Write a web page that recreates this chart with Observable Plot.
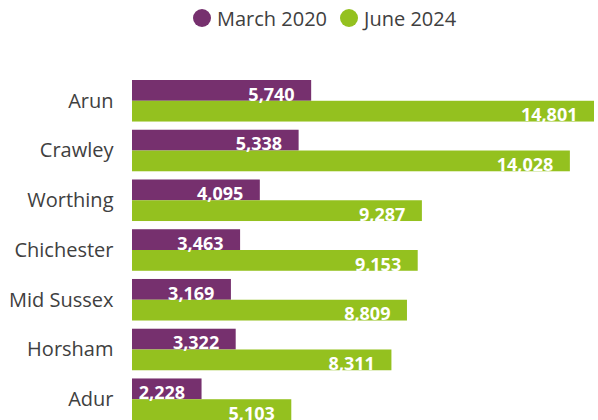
<!DOCTYPE html>
<html>
<head>
<meta charset="utf-8">
<script src="https://cdn.jsdelivr.net/npm/d3@7"></script>
<script src="https://cdn.jsdelivr.net/npm/@observablehq/plot@0.6"></script>
<style>
  html, body { margin: 0; padding: 0; background: #fff; }
  body { width: 598px; height: 420px; overflow: hidden; font-family: "Open Sans", sans-serif; }
  #legend { height: 36px; display: flex; align-items: center; padding-left: 193px; box-sizing: border-box; font-size: 20px; color: #404040; }
  .item { display: flex; align-items: center; }
  .dot { width: 18px; height: 18px; border-radius: 50%; margin-right: 6px; }
  .item + .item { margin-left: 13px; }
  #chart svg { display: block; }
</style>
</head>
<body>
<div id="legend"></div>
<div id="chart"></div>
<script>
const categories = ["Arun", "Crawley", "Worthing", "Chichester", "Mid Sussex", "Horsham", "Adur"];
const march2020 = [5740, 5338, 4095, 3463, 3169, 3322, 2228];
const june2024 = [14801, 14028, 9287, 9153, 8809, 8311, 5103];
const seriesNames = ["March 2020", "June 2024"];
const seriesColors = ["#76306e", "#94c11f"];

const data = categories.flatMap((c, i) => [
  {cat: c, series: seriesNames[0], value: march2020[i]},
  {cat: c, series: seriesNames[1], value: june2024[i]}
]);

const legend = document.getElementById("legend");
seriesNames.forEach((s, i) => {
  const item = document.createElement("div");
  item.className = "item";
  const dot = document.createElement("span");
  dot.className = "dot";
  dot.style.background = seriesColors[i];
  const label = document.createElement("span");
  label.textContent = s;
  item.appendChild(dot);
  item.appendChild(label);
  legend.appendChild(item);
});

const fmt = d3.format(",");
const chart = Plot.plot({
  width: 598,
  height: 384,
  marginLeft: 132,
  marginRight: 4,
  marginTop: 44,
  marginBottom: 0,
  style: {fontFamily: "Open Sans, sans-serif", fontSize: "20px", color: "#404040", background: "#fff"},
  x: {domain: [0, 14801], axis: null},
  y: {domain: seriesNames, axis: null, padding: 0, round: false},
  fy: {domain: categories, paddingInner: 0.165, paddingOuter: 0, round: false, label: null, axis: "left", tickSize: 0, tickPadding: 19},
  color: {domain: seriesNames, range: seriesColors},
  marks: [
    Plot.barX(data, {fy: "cat", y: "series", x: "value", fill: "series"}),
    Plot.text(data, {fy: "cat", y: "series", x: "value", text: d => fmt(d.value), textAnchor: "end", dx: -17, dy: 4, fill: "white", fontWeight: "bold", fontSize: 18})
  ]
});
document.getElementById("chart").appendChild(chart);
</script>
</body>
</html>
